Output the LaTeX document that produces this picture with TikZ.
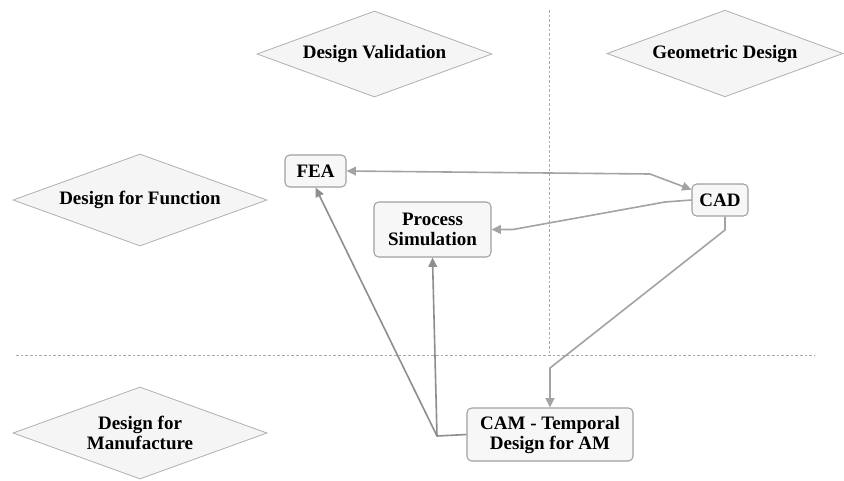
\documentclass[tikz,border=0pt]{standalone}
\usepackage{fontspec}
\setmainfont{Liberation Serif}
\usetikzlibrary{shapes.geometric,arrows.meta}
\definecolor{boxfill}{HTML}{F7F7F7}
\definecolor{boxline}{HTML}{A0A0A0}
\definecolor{dmfill}{HTML}{F5F5F5}
\definecolor{dmline}{HTML}{B0B0B0}
\definecolor{conA}{HTML}{A3A3A3}
\definecolor{conB}{HTML}{8E8E8E}
\definecolor{dashc}{HTML}{A8A8A8}
\tikzset{
  lbl/.style={font=\fontsize{14.25}{15}\selectfont\bfseries, align=center, text=black},
  dmnode/.style={lbl, diamond, draw=dmline, fill=dmfill, line width=0.6pt, inner sep=0pt, aspect=2.7},
  boxnode/.style={lbl, rectangle, rounded corners=3.5pt, draw=boxline, fill=boxfill, line width=0.8pt, inner sep=0pt},
  conn/.style={draw=conA, line width=1.2pt, line join=round, -{Triangle[length=7pt,width=6.5pt]}},
  connb/.style={draw=conB, line width=1.2pt, line join=round, -{Triangle[length=7pt,width=6.5pt]}},
  sep/.style={draw=dashc, line width=0.7pt, dash pattern=on 2pt off 1.5pt}
}
\begin{document}
\begin{tikzpicture}[x=0.75pt,y=-0.75pt]
\useasboundingbox (0,0) rectangle (844,480);
\fill[white] (0,0) rectangle (844,480);
% separators
\coordinate (vtop) at (549,10);
\coordinate (vbot) at (549,355);
\coordinate (hl) at (16,355);
\coordinate (hr) at (815,355);
\draw[sep] (vtop) -- (vbot);
\draw[sep] (hl) -- (hr);
% diamonds
\node[dmnode, minimum width=176.25pt, minimum height=64.5pt] (dv) at (374.5,54) {Design Validation};
\node[dmnode, minimum width=177pt, minimum height=65pt] (gd) at (725,53.5) {Geometric Design};
\node[dmnode, minimum width=190.5pt, minimum height=69pt] (dff) at (140,200) {Design for Function};
\node[dmnode, minimum width=190.5pt, minimum height=69pt] (dfm) at (140,433) {Design for\\Manufacture};
% boxes
\node[boxnode, minimum width=45.75pt, minimum height=24pt] (fea) at (315.5,171) {FEA};
\node[boxnode, minimum width=87.75pt, minimum height=41.25pt] (ps) at (432.5,229.5) {Process\\Simulation};
\node[boxnode, minimum width=42pt, minimum height=24pt] (cad) at (720,200) {CAD};
\node[boxnode, minimum width=124.5pt, minimum height=39.75pt] (cam) at (550,434.5) {CAM - Temporal\\Design for AM};
% bend points
\coordinate (b1) at (650,174);
\coordinate (b2a) at (665,202);
\coordinate (b2b) at (513,229.5);
\coordinate (b3a) at (725,230);
\coordinate (b3b) at (550,368);
\coordinate (b4) at (437,436);
% connectors
\draw[conn, {Triangle[length=7pt,width=6.5pt]}-{Triangle[length=7pt,width=6.5pt]}] (fea.east) -- (b1) -- (cad.160);
\draw[conn] (cad.west) -- (b2a) -- (b2b) -- (ps.east);
\draw[conn] (b3a |- cad.south) -- (b3a) -- (b3b) -- (cam.north);
\draw[connb] (cam.west) -- (b4) -- (fea.south);
\draw[connb] (b4) -- (ps.south);
\end{tikzpicture}
\end{document}
